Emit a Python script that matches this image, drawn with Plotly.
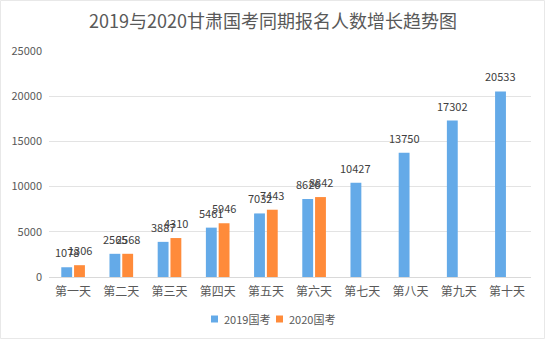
import plotly.graph_objects as go

days = ["第一天", "第二天", "第三天", "第四天", "第五天",
        "第六天", "第七天", "第八天", "第九天", "第十天"]
applicants_2019 = [1078, 2565, 3887, 5461, 7032, 8626, 10427, 13750, 17302, 20533]
applicants_2020 = [1306, 2568, 4310, 5946, 7443, 8842, None, None, None, None]
y_ticks = [0, 5000, 10000, 15000, 20000, 25000]
series_names = ["2019国考", "2020国考"]

BLUE = "#64AAE8"
ORANGE = "#FF8B3A"
CJK = "Noto Sans CJK SC"

W, H = 546, 340
L, R, T, B = 49, 15, 51, 63
pw, ph = W - L - R, H - T - B


def px_x(x):
    return (x - L) / pw


def px_y(y):
    return (H - B - y) / ph


fig = go.Figure()
fig.add_bar(name=series_names[0], x=days, y=applicants_2019, marker_color=BLUE,
            marker_line_width=0, showlegend=False)
fig.add_bar(name=series_names[1], x=days, y=applicants_2020, marker_color=ORANGE,
            marker_line_width=0, showlegend=False)

# value labels above each bar
for series, shift in ((applicants_2019, -6.4), (applicants_2020, 6.4)):
    for d, v in zip(days, series):
        if v is None:
            continue
        fig.add_annotation(x=d, y=v, text=str(v), showarrow=False,
                           xshift=shift, yshift=15, yanchor="middle",
                           font=dict(family=CJK, size=11, color="#404040"))

# compact legend below the axis
for name, color, sx in ((series_names[0], BLUE, 211), (series_names[1], ORANGE, 276)):
    fig.add_shape(type="rect", xref="paper", yref="paper",
                  x0=px_x(sx), x1=px_x(sx + 7), y0=px_y(322.5), y1=px_y(315.5),
                  fillcolor=color, line_width=0)
    fig.add_annotation(xref="paper", yref="paper", x=px_x(sx + 11), y=px_y(319),
                       xanchor="left", yanchor="middle", showarrow=False,
                       text=name, font=dict(family=CJK, size=11, color="#595959"))

# faint chart border
fig.add_shape(type="rect", xref="paper", yref="paper", layer="below",
              x0=px_x(0.5), x1=px_x(544.5), y0=px_y(338.5), y1=px_y(0.5),
              line=dict(color="#E8E8E8", width=1))

fig.update_layout(
    width=W, height=H,
    margin=dict(l=L, r=R, t=T, b=B),
    paper_bgcolor="white", plot_bgcolor="white",
    barmode="group", bargap=0.47, bargroupgap=0.15,
    showlegend=False,
    title=dict(text="2019与2020甘肃国考同期报名人数增长趋势图",
               x=0.5, xref="container", xanchor="center",
               y=1 - 21.5 / H, yref="container", yanchor="middle",
               font=dict(family=CJK, size=18, color="#595959")),
    xaxis=dict(showgrid=False, showline=True, linecolor="#D9D9D9", linewidth=1,
               ticks="", ticklabelstandoff=4,
               tickfont=dict(family=CJK, size=12, color="#595959")),
    yaxis=dict(range=[0, 25000], tickvals=y_ticks,
               ticktext=[str(v) for v in y_ticks], showgrid=True,
               gridcolor="#E3E3E3", gridwidth=1, zeroline=False, showline=False,
               ticks="", ticklabelstandoff=6,
               tickfont=dict(family=CJK, size=11, color="#595959")),
)

fig.write_html("out.html")
